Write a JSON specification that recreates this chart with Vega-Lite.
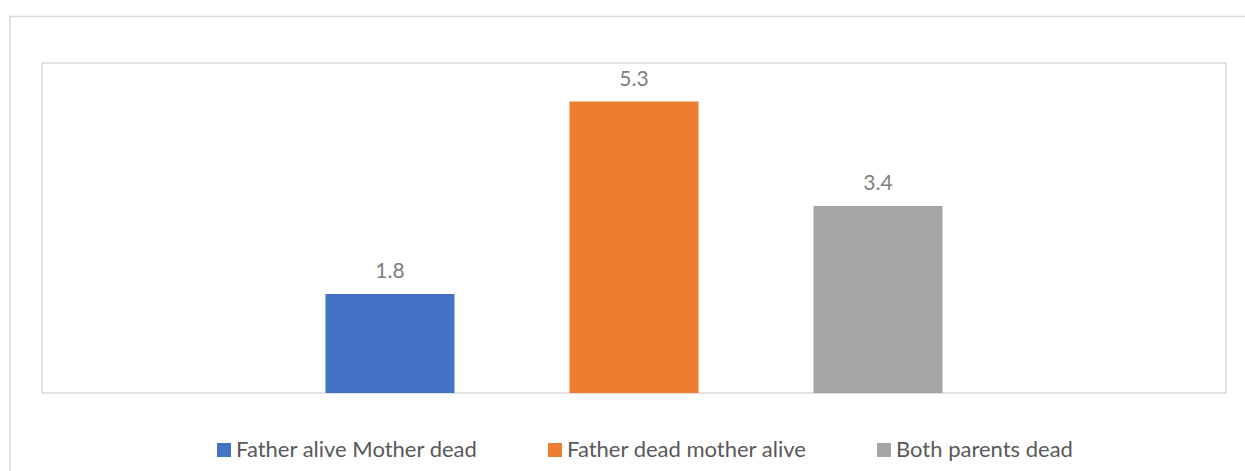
{
  "$schema": "https://vega.github.io/schema/vega-lite/v6.json",
  "width": 1184,
  "height": 330,
  "autosize": {"type": "none"},
  "padding": {"left": 42, "top": 63, "right": 19, "bottom": 78},
  "background": "white",
  "config": {
    "view": {"stroke": "#d9d9d9", "strokeWidth": 1.5},
    "font": "Lato"
  },
  "layer": [
    {
      "data": {"values": [{}]},
      "mark": {"type": "rect", "fillOpacity": 0, "stroke": "#d9d9d9", "strokeWidth": 1.5},
      "encoding": {
        "x": {"datum": -0.027, "type": "quantitative", "scale": {"domain": [0, 1], "nice": false, "zero": false}, "axis": null},
        "x2": {"datum": 1.2},
        "y": {"datum": 1.141, "type": "quantitative", "scale": {"domain": [0, 1], "nice": false, "zero": false}, "axis": null},
        "y2": {"datum": -0.5}
      }
    },
    {
      "data": {
        "values": [
          {"category": "Father alive Mother dead", "value": 1.8},
          {"category": "Father dead mother alive", "value": 5.3},
          {"category": "Both parents dead", "value": 3.4}
        ]
      },
      "encoding": {
        "x": {"field": "category", "type": "nominal", "sort": null,
              "scale": {"paddingInner": 0.148, "paddingOuter": 1}, "axis": null},
        "y": {"field": "value", "type": "quantitative", "scale": {"domain": [0, 6], "nice": false}, "axis": null}
      },
      "layer": [
        {
          "mark": {"type": "bar", "width": 129},
          "encoding": {
            "color": {
              "field": "category", "type": "nominal",
              "scale": {
                "domain": ["Father alive Mother dead", "Father dead mother alive", "Both parents dead"],
                "range": ["#4472C4", "#ED7D31", "#A5A5A5"]
              },
              "legend": {
                "title": null,
                "orient": "none",
                "direction": "horizontal",
                "legendX": 171,
                "legendY": 376,
                "symbolType": "square",
                "symbolSize": 196,
                "symbolStrokeWidth": 0,
                "labelFont": "Lato",
                "labelFontSize": 22,
                "labelColor": "#595959",
                "labelOffset": 1,
                "columnPadding": 66,
                "labelLimit": 400
              }
            }
          }
        },
        {
          "mark": {"type": "text", "baseline": "alphabetic", "dy": -16, "font": "Lato", "fontSize": 21, "color": "#7f7f7f"},
          "encoding": {
            "text": {"field": "value", "type": "quantitative", "format": ".1f"}
          }
        }
      ]
    }
  ],
  "resolve": {"scale": {"x": "independent", "y": "independent"}}
}
